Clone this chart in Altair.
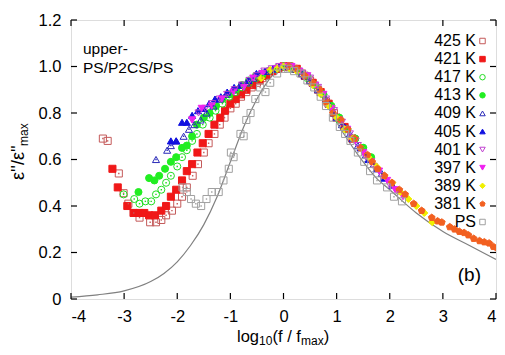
import altair as alt
import pandas as pd

FONT = "Liberation Sans"

SERIES = ["425 K", "421 K", "417 K", "413 K", "409 K", "405 K",
          "401 K", "397 K", "389 K", "381 K", "PS"]
STROKES = ["#c45a5a", "#f01818", "#22dd22", "#22ee22", "#2a2ab8", "#1010e0",
           "#c040d0", "#f020f0", "#f0f000", "#f26020", "#a0a0a0"]
FILLS = ["transparent", "#f01818", "transparent", "#22ee22", "transparent", "#1010e0",
         "transparent", "#f020f0", "#f0f000", "#f26020", "transparent"]
PENTAGON = "M0,-1L0.951,-0.309L0.588,0.809L-0.588,0.809L-0.951,-0.309Z"
SHAPES = ["square", "square", "circle", "circle", "triangle-up", "triangle-up",
          "triangle-down", "triangle-down", "diamond", PENTAGON, "square"]
OPEN = ["425 K", "417 K", "409 K", "401 K", "PS"]

X_TICKS = [-4, -3, -2, -1, 0, 1, 2, 3, 4]
Y_TICKS = [0, 0.2, 0.4, 0.6, 0.8, 1.0, 1.2]

X_425 = [-3.40, -3.31, -3.10, -3.01, -2.92, -2.82, -2.71, -2.51, -2.40, -2.30, -2.21, -2.10,
         -2.00, -1.91, -1.82, -1.71, -1.61, -1.50, -1.41, -1.30, -1.20, -1.11, -1.00, -0.90,
         -0.80, -0.70, -0.60, -0.50, -0.40, -0.30, -0.20, -0.10, 0.00, 0.10, 0.20, 0.35,
         0.50, 0.65, 0.80, 0.95]
Y_425 = [0.69, 0.68, 0.54, 0.455, 0.41, 0.37, 0.35, 0.33, 0.33, 0.34, 0.36, 0.38,
         0.41, 0.44, 0.48, 0.53, 0.58, 0.63, 0.67, 0.71, 0.75, 0.78, 0.82, 0.84,
         0.87, 0.89, 0.91, 0.93, 0.95, 0.97, 0.98, 0.99, 1.00, 1.00, 0.99, 0.97,
         0.94, 0.90, 0.85, 0.80]

X_421 = [-3.22, -3.12, -2.94, -2.82, -2.71, -2.62, -2.53, -2.42, -2.30, -2.21, -2.12, -2.02,
         -1.91, -1.82, -1.72, -1.62, -1.52, -1.41, -1.30, -1.19, -1.10, -1.00, -0.90, -0.80,
         -0.70, -0.58, -0.45, -0.33, -0.22, -0.10, 0.00, 0.12, 0.25, 0.40, 0.55, 0.70,
         0.85, 1.00, 1.15, 1.30]
Y_421 = [0.56, 0.48, 0.40, 0.37, 0.37, 0.37, 0.36, 0.36, 0.38, 0.40, 0.44, 0.47,
         0.51, 0.55, 0.58, 0.63, 0.67, 0.71, 0.75, 0.78, 0.81, 0.84, 0.86, 0.88,
         0.90, 0.92, 0.94, 0.96, 0.98, 0.99, 1.00, 1.00, 0.99, 0.96, 0.93, 0.89,
         0.84, 0.78, 0.74, 0.69]

X_417 = [-3.01, -2.81, -2.71, -2.60, -2.49, -2.40, -2.30, -2.21, -2.12, -2.00, -1.91, -1.82,
         -1.72, -1.63, -1.52, -1.39, -1.28, -1.15, -1.02, -0.90, -0.78, -0.65, -0.52, -0.40,
         -0.28, -0.15, 0.00, 0.15, 0.30, 0.45, 0.60, 0.75, 0.90, 1.05, 1.20, 1.35, 1.50]
Y_417 = [0.45, 0.43, 0.41, 0.42, 0.42, 0.45, 0.47, 0.50, 0.53, 0.57, 0.61, 0.64,
         0.68, 0.71, 0.75, 0.78, 0.81, 0.84, 0.87, 0.89, 0.91, 0.93, 0.95, 0.96,
         0.98, 0.99, 1.00, 0.99, 0.98, 0.95, 0.92, 0.88, 0.83, 0.77, 0.73, 0.69, 0.65]

X_413 = [-2.73, -2.53, -2.43, -2.34, -2.23, -2.12, -2.02, -1.91, -1.82, -1.72, -1.63, -1.50,
         -1.39, -1.27, -1.15, -1.02, -0.90, -0.78, -0.65, -0.52, -0.40, -0.28, -0.15, 0.00,
         0.15, 0.30, 0.45, 0.60, 0.75, 0.90, 1.05, 1.20, 1.35, 1.50, 1.65]
Y_413 = [0.46, 0.52, 0.51, 0.53, 0.56, 0.59, 0.61, 0.65, 0.66, 0.70, 0.75, 0.78,
         0.80, 0.83, 0.86, 0.88, 0.90, 0.92, 0.94, 0.96, 0.97, 0.98, 0.99, 1.00,
         1.00, 0.98, 0.96, 0.92, 0.88, 0.83, 0.78, 0.73, 0.69, 0.65, 0.61]

X_409 = [-2.40, -2.19, -2.12, -2.02, -1.88, -1.78, -1.68, -1.56, -1.45, -1.32, -1.20, -1.08,
         -0.95, -0.82, -0.70, -0.57, -0.45, -0.32, -0.20, -0.08, 0.05, 0.20, 0.35, 0.50,
         0.65, 0.80, 0.95, 1.10, 1.25, 1.40, 1.55, 1.70, 1.85]
Y_409 = [0.60, 0.64, 0.66, 0.68, 0.70, 0.73, 0.75, 0.77, 0.80, 0.83, 0.86, 0.88,
         0.90, 0.92, 0.93, 0.95, 0.97, 0.98, 0.99, 1.00, 1.00, 0.99, 0.97, 0.94,
         0.90, 0.86, 0.80, 0.75, 0.71, 0.66, 0.62, 0.58, 0.54]

X_405 = [-2.12, -2.02, -1.91, -1.82, -1.72, -1.61, -1.50, -1.40, -1.29, -1.18, -1.06, -0.93,
         -0.80, -0.66, -0.51, -0.35, -0.20, -0.05, 0.10, 0.25, 0.40, 0.55, 0.70, 0.85,
         1.00, 1.15, 1.30, 1.45, 1.60, 1.75, 1.90, 2.05]
Y_405 = [0.68, 0.68, 0.76, 0.76, 0.79, 0.81, 0.82, 0.84, 0.86, 0.87, 0.89, 0.91,
         0.92, 0.94, 0.97, 0.98, 0.99, 1.00, 1.00, 0.99, 0.96, 0.93, 0.89, 0.84,
         0.78, 0.74, 0.69, 0.65, 0.60, 0.56, 0.52, 0.49]

X_401 = [-1.72, -1.60, -1.47, -1.34, -1.20, -1.06, -0.92, -0.78, -0.64, -0.50, -0.36, -0.22,
         -0.08, 0.06, 0.20, 0.35, 0.50, 0.65, 0.80, 0.95, 1.10, 1.25, 1.40, 1.55,
         1.70, 1.85, 2.00, 2.15]
Y_401 = [0.77, 0.80, 0.82, 0.84, 0.86, 0.88, 0.90, 0.92, 0.94, 0.96, 0.98, 0.99,
         1.00, 1.00, 0.99, 0.97, 0.95, 0.91, 0.86, 0.81, 0.76, 0.71, 0.66, 0.61,
         0.57, 0.53, 0.49, 0.46]

X_397 = [-1.72, -1.54, -1.35, -1.16, -0.94, -0.75, -0.57, -0.40, -0.25, -0.12, 0.00, 0.15,
         0.30, 0.45, 0.60, 0.75, 0.90, 1.05, 1.20, 1.35, 1.50, 1.65, 1.80, 1.95,
         2.10, 2.25]
Y_397 = [0.77, 0.82, 0.83, 0.86, 0.89, 0.91, 0.95, 0.97, 0.98, 0.99, 1.00, 1.00,
         0.98, 0.96, 0.92, 0.88, 0.82, 0.77, 0.73, 0.68, 0.63, 0.59, 0.55, 0.51,
         0.47, 0.44]

X_389 = [-0.42, -0.25, -0.12, 0.00, 0.12, 0.25, 0.40, 0.55, 0.70, 0.85, 1.00, 1.15,
         1.30, 1.45, 1.60, 1.75, 1.90, 2.05, 2.20, 2.35, 2.50, 2.65, 2.80]
Y_389 = [0.95, 0.985, 0.99, 1.00, 0.99, 0.98, 0.96, 0.92, 0.88, 0.83, 0.78, 0.73,
         0.69, 0.65, 0.61, 0.57, 0.53, 0.50, 0.46, 0.43, 0.40, 0.37, 0.33]

X_381 = [0.10, 0.25, 0.40, 0.55, 0.68, 0.80, 0.93, 1.08, 1.21, 1.34, 1.45, 1.58,
         1.67, 1.77, 1.90, 2.04, 2.18, 2.29, 2.45, 2.60, 2.79, 2.90, 2.98, 3.13,
         3.22, 3.31, 3.40, 3.48, 3.58, 3.69, 3.78, 3.87, 3.95, 4.02]
Y_381 = [1.00, 0.99, 0.96, 0.93, 0.90, 0.85, 0.80, 0.77, 0.73, 0.69, 0.65, 0.62,
         0.59, 0.56, 0.53, 0.50, 0.47, 0.45, 0.41, 0.38, 0.35, 0.335, 0.33, 0.31,
         0.30, 0.29, 0.285, 0.275, 0.26, 0.25, 0.245, 0.24, 0.225, 0.22]

X_PS = [-1.90, -1.82, -1.74, -1.65, -1.55, -1.45, -1.35, -1.22, -1.13, -1.03, -0.99, -0.94,
        -0.81, -0.75, -0.70, -0.62, -0.53, -0.44, -0.34, -0.25, -0.12, 0.00, 0.09, 0.20,
        0.32, 0.45, 0.58, 0.70, 0.80, 0.93, 1.06, 1.16, 1.26, 1.40, 1.52, 1.63,
        1.76, 1.95, 2.08, 2.23]
Y_PS = [0.48, 0.46, 0.43, 0.41, 0.40, 0.43, 0.46, 0.46, 0.51, 0.56, 0.63, 0.61,
        0.71, 0.70, 0.77, 0.80, 0.86, 0.91, 0.89, 0.93, 0.97, 0.99, 0.99, 0.98,
        0.97, 0.94, 0.91, 0.87, 0.83, 0.78, 0.74, 0.71, 0.68, 0.63, 0.59, 0.55,
        0.51, 0.48, 0.44, 0.42]

FIT_X = [-4.0, -3.5, -3.0, -2.5, -2.25, -2.0, -1.75, -1.5, -1.25, -1.0, -0.75, -0.5,
         -0.25, 0.0, 0.25, 0.5, 0.75, 1.0, 1.25, 1.5, 1.75, 2.0, 2.5, 3.0, 3.5, 4.0]
FIT_Y = [0.008, 0.018, 0.035, 0.075, 0.11, 0.16, 0.23, 0.32, 0.44, 0.59, 0.74, 0.86,
         0.95, 1.00, 0.985, 0.94, 0.86, 0.76, 0.67, 0.59, 0.52, 0.47, 0.37, 0.29, 0.23, 0.17]

ALL = [("425 K", X_425, Y_425), ("421 K", X_421, Y_421), ("417 K", X_417, Y_417),
       ("413 K", X_413, Y_413), ("409 K", X_409, Y_409), ("405 K", X_405, Y_405),
       ("401 K", X_401, Y_401), ("397 K", X_397, Y_397), ("389 K", X_389, Y_389),
       ("381 K", X_381, Y_381), ("PS", X_PS, Y_PS)]

rows = []
for name, xs, ys in ALL:
    for xv, yv in zip(xs, ys):
        rows.append({"series": name, "x": xv, "y": yv})
pts = pd.DataFrame(rows)
fit = pd.DataFrame({"x": FIT_X, "y": FIT_Y})

W, H = 425, 279
xscale = alt.Scale(domain=[-4, 4], nice=False, zero=False)
yscale = alt.Scale(domain=[0, 1.2], nice=False, zero=False)

xaxis = alt.Axis(values=X_TICKS, labelExpr="datum.value + ''", ticks=False, domain=False,
                 grid=False, title=None, labelFont=FONT, labelFontSize=16.5,
                 labelColor="black", labelPadding=9)
yaxis = alt.Axis(values=Y_TICKS,
                 labelExpr="datum.value == 0 ? '0' : format(datum.value, '.1f')",
                 ticks=False, domain=False, grid=False, title=None, labelFont=FONT,
                 labelFontSize=16.5, labelColor="black", labelPadding=10)

line = alt.Chart(fit).mark_line(color="#808080", strokeWidth=1.2,
                                interpolate="monotone", clip=True).encode(
    x=alt.X("x:Q", scale=xscale, axis=xaxis),
    y=alt.Y("y:Q", scale=yscale, axis=yaxis),
)

points = alt.Chart(pts).mark_point(filled=True, size=50, strokeWidth=1, opacity=1,
                                   clip=True).encode(
    x=alt.X("x:Q", scale=xscale),
    y=alt.Y("y:Q", scale=yscale),
    shape=alt.Shape("series:N", scale=alt.Scale(domain=SERIES, range=SHAPES), legend=None),
    fill=alt.Fill("series:N", scale=alt.Scale(domain=SERIES, range=FILLS), legend=None),
    stroke=alt.Stroke("series:N", scale=alt.Scale(domain=SERIES, range=STROKES), legend=None),
)

dots = alt.Chart(pts).transform_filter(
    alt.FieldOneOfPredicate(field="series", oneOf=OPEN)
).mark_square(size=2, opacity=1, clip=True).encode(
    x=alt.X("x:Q", scale=xscale),
    y=alt.Y("y:Q", scale=yscale),
    color=alt.Color("series:N", scale=alt.Scale(domain=SERIES, range=STROKES), legend=None),
)

xt = pd.DataFrame({"v": X_TICKS})
yt = pd.DataFrame({"v": Y_TICKS})
TL = 6
tick_b = alt.Chart(xt).mark_rule(color="black", strokeWidth=1.2).encode(
    x=alt.X("v:Q", scale=xscale), y=alt.value(H), y2=alt.value(H - TL))
tick_t = alt.Chart(xt).mark_rule(color="black", strokeWidth=1.2).encode(
    x=alt.X("v:Q", scale=xscale), y=alt.value(0), y2=alt.value(TL))
tick_l = alt.Chart(yt).mark_rule(color="black", strokeWidth=1.2).encode(
    y=alt.Y("v:Q", scale=yscale), x=alt.value(0), x2=alt.value(TL))
tick_r = alt.Chart(yt).mark_rule(color="black", strokeWidth=1.2).encode(
    y=alt.Y("v:Q", scale=yscale), x=alt.value(W), x2=alt.value(W - TL))


def label(text, x, y, size, align="left", angle=0, baseline="alphabetic"):
    kw = dict(align=align, baseline=baseline, font=FONT, fontSize=size, color="black")
    if angle:
        kw["angle"] = angle
    return alt.Chart(pd.DataFrame({"t": [text]})).mark_text(**kw).encode(
        x=alt.value(x), y=alt.value(y), text="t:N")


# legend drawn by hand: labels to the left of the symbols (gnuplot style)
LEG_TEXT_X, LEG_SYM_X, LEG_Y0, LEG_DY = 405, 411.5, 21, 18.1
legend_layers = []
for i, name in enumerate(SERIES):
    yy = LEG_Y0 + LEG_DY * i
    legend_layers.append(label(name, LEG_TEXT_X, yy, 16, align="right", baseline="middle"))
    legend_layers.append(
        alt.Chart(pd.DataFrame({"s": [name]})).mark_point(
            shape=SHAPES[i], size=30, fill=FILLS[i], stroke=STROKES[i],
            strokeWidth=1, opacity=1, filled=True
        ).encode(x=alt.value(LEG_SYM_X), y=alt.value(yy))
    )

texts = [
    label("upper-", 12, 34, 15.5),
    label("PS/P2CS/PS", 12, 53, 15.5),
    label("(b)", 410, 261, 19, align="right"),
    # x title: log10(f / fmax)
    label("log", 166, 321.5, 16.5),
    label("10", 188, 324.5, 12),
    label("(f / f", 201.5, 321.5, 16.5),
    label("max", 230, 324.5, 12),
    label(")", 252.7, 321.5, 16.5),
    # y title: e''/e''max
    label("ε''/ε''", -47, 160, 18, angle=270),
    label("max", -43, 126, 12, angle=270),
]

chart = alt.layer(line, points, dots, tick_b, tick_t, tick_l, tick_r,
                  *legend_layers, *texts).properties(
    width=W, height=H,
    autosize=alt.AutoSizeParams(type="none"),
    padding={"left": 63, "top": 12, "right": 1, "bottom": 48},
).configure_view(stroke="black", strokeWidth=1.5).configure(background="white")

chart.save("out.html", embed_options={"renderer": "svg", "actions": False})
